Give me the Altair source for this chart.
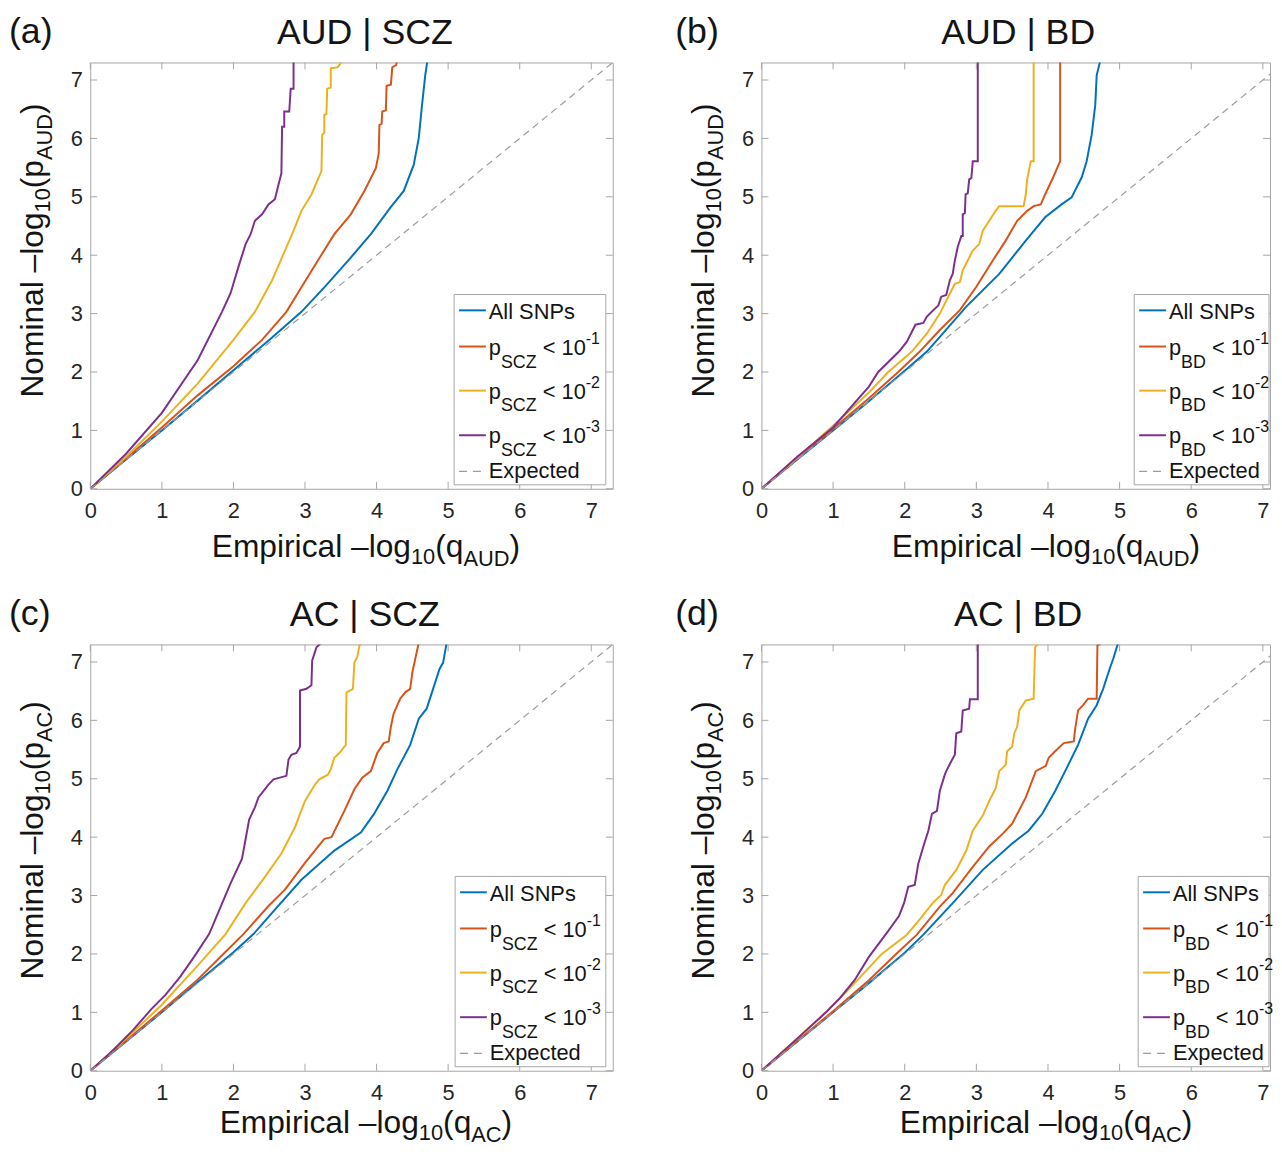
import altair as alt
import pandas as pd

FONT = "Liberation Sans"
BLUE, ORANGE, YELLOW, PURPLE = "#0072BD", "#D95319", "#EDB120", "#7E2F8E"
DASH_C = "#9c9c9c"
BOX_C = "#a6a6a6"
TXT = "#141414"

TICKS = [0, 1, 2, 3, 4, 5, 6, 7]
EXPECTED = [0, 7.3]

# ---------------- data (x = empirical, y = nominal) ----------------
AUD_SCZ_ALL = [(0,0),(0.5,0.5),(1,1.0),(1.5,1.51),(2,2.03),(2.5,2.55),(2.95,3.03),(3.27,3.45),(3.64,3.96),
               (3.92,4.36),(4.19,4.81),(4.38,5.10),(4.52,5.55),(4.59,6.01),(4.63,6.51),(4.68,7.08),(4.71,7.33)]
AUD_SCZ_P1 = [(0,0),(0.5,0.52),(1,1.05),(1.5,1.6),(2.0,2.1),(2.4,2.55),(2.74,3.03),(2.95,3.45),(3.18,3.91),
              (3.41,4.36),(3.64,4.70),(3.83,5.10),(3.99,5.49),(4.03,5.74),(4.04,6.23),(4.07,6.25),(4.08,6.46),
              (4.13,6.48),(4.14,6.9),(4.20,6.92),(4.22,7.22),(4.27,7.25),(4.29,7.33)]
AUD_SCZ_P2 = [(0,0),(0.5,0.55),(1,1.15),(1.5,1.8),(2.0,2.55),(2.3,3.03),(2.54,3.57),(2.72,4.08),(2.84,4.42),
              (2.95,4.76),(3.09,5.04),(3.23,5.44),(3.24,6.06),(3.27,6.1),(3.27,6.40),(3.30,6.42),(3.31,6.85),
              (3.36,6.87),(3.36,7.2),(3.46,7.22),(3.52,7.33)]
AUD_SCZ_P3 = [(0,0),(0.5,0.6),(1.0,1.3),(1.5,2.2),(1.84,3.03),(1.96,3.35),(2.07,3.80),(2.17,4.19),(2.24,4.36),
              (2.30,4.59),(2.40,4.70),(2.49,4.87),(2.58,4.96),(2.63,5.21),(2.67,5.40),(2.68,6.2),(2.71,6.2),
              (2.71,6.46),(2.78,6.46),(2.80,6.85),(2.84,6.85),(2.84,7.33)]

AUD_BD_ALL = [(0,0),(0.5,0.5),(1,1.0),(1.5,1.5),(2.0,2.02),(2.31,2.35),(2.86,3.12),(3.32,3.68),(3.69,4.25),
              (3.96,4.65),(4.19,4.87),(4.33,4.99),(4.47,5.33),(4.54,5.61),(4.61,6.06),(4.66,6.57),(4.68,7.08),(4.73,7.33)]
AUD_BD_P1 = [(0,0),(0.5,0.52),(1,1.03),(1.5,1.55),(1.91,2.0),(2.21,2.35),(2.49,2.72),(2.77,3.06),(3.00,3.46),
             (3.23,3.91),(3.41,4.25),(3.57,4.59),(3.71,4.76),(3.80,4.84),(3.90,4.87),(3.96,5.04),(4.06,5.30),
             (4.17,5.61),(4.17,7.33)]
AUD_BD_P2 = [(0,0),(0.5,0.53),(1,1.08),(1.5,1.65),(1.77,2.0),(2.10,2.35),(2.31,2.66),(2.49,3.00),(2.63,3.34),
             (2.70,3.51),(2.77,3.54),(2.81,3.74),(2.88,3.91),(2.95,4.08),(3.04,4.19),(3.09,4.42),(3.18,4.59),
             (3.27,4.76),(3.32,4.84),(3.66,4.84),(3.69,5.04),(3.71,5.30),(3.76,5.61),(3.80,5.61),(3.80,7.33)]
AUD_BD_P3 = [(0,0),(0.5,0.55),(1,1.05),(1.5,1.75),(1.63,2.0),(1.92,2.35),(2.03,2.52),(2.15,2.81),(2.26,2.84),
             (2.31,2.95),(2.40,3.06),(2.47,3.14),(2.51,3.29),(2.58,3.32),(2.63,3.57),(2.67,3.68),(2.70,3.91),
             (2.74,4.14),(2.79,4.33),(2.81,4.33),(2.81,4.70),(2.84,4.72),(2.85,5.04),(2.88,5.06),(2.90,5.30),
             (2.93,5.32),(2.95,5.61),(3.02,5.61),(3.02,7.33)]

AC_SCZ_ALL = [(0,0),(1,1.0),(1.5,1.52),(2,2.03),(2.28,2.34),(2.58,2.76),(2.95,3.27),(3.41,3.77),(3.78,4.08),
              (3.96,4.39),(4.15,4.79),(4.29,5.16),(4.47,5.58),(4.59,6.03),(4.70,6.20),(4.79,6.54),(4.88,6.88),
              (4.93,6.99),(4.98,7.33)]
AC_SCZ_P1 = [(0,0),(1,1.03),(1.5,1.56),(1.86,2.0),(2.14,2.34),(2.49,2.82),(2.72,3.10),(3.00,3.56),(3.27,3.97),
             (3.37,4.00),(3.55,4.45),(3.69,4.82),(3.80,5.02),(3.92,5.13),(4.01,5.44),(4.10,5.61),(4.17,5.64),
             (4.20,5.89),(4.24,6.12),(4.33,6.37),(4.40,6.48),(4.47,6.54),(4.50,6.82),(4.54,7.05),(4.59,7.33)]
AC_SCZ_P2 = [(0,0),(0.5,0.55),(1.0,1.13),(1.5,1.8),(1.89,2.34),(2.17,2.87),(2.44,3.32),(2.67,3.72),(2.86,4.17),
             (3.00,4.62),(3.14,4.90),(3.20,4.99),(3.32,5.07),(3.36,5.16),(3.41,5.36),(3.48,5.44),(3.57,5.58),
             (3.58,6.48),(3.67,6.54),(3.69,6.99),(3.73,7.08),(3.76,7.28),(3.79,7.33)]
AC_SCZ_P3 = [(0,0),(0.3,0.33),(0.6,0.7),(0.85,1.05),(1.05,1.3),(1.25,1.6),(1.45,1.95),(1.66,2.34),(1.96,3.21),
             (2.12,3.63),(2.22,4.3),(2.30,4.51),(2.35,4.68),(2.49,4.90),(2.56,4.99),(2.74,5.05),(2.77,5.33),
             (2.81,5.41),(2.88,5.44),(2.93,5.55),(2.93,6.51),(3.02,6.54),(3.09,6.60),(3.10,7.02),(3.16,7.25),(3.23,7.33)]

AC_BD_ALL = [(0,0),(1,1.0),(1.5,1.5),(2.0,2.02),(2.26,2.33),(2.67,2.87),(3.09,3.44),(3.50,3.89),(3.73,4.11),
             (3.92,4.40),(4.10,4.79),(4.24,5.13),(4.42,5.58),(4.56,6.03),(4.68,6.26),(4.77,6.54),(4.86,6.88),
             (4.91,7.05),(4.98,7.33)]
AC_BD_P1 = [(0,0),(1,1.02),(1.5,1.55),(1.88,2.0),(2.17,2.33),(2.49,2.81),(2.67,3.04),(2.95,3.49),(3.18,3.84),
            (3.37,4.06),(3.50,4.23),(3.69,4.68),(3.83,5.13),(3.97,5.22),(4.01,5.36),(4.10,5.47),(4.22,5.61),
            (4.36,5.64),(4.38,5.86),(4.42,6.17),(4.49,6.26),(4.56,6.37),(4.68,6.37),(4.69,7.28),(4.75,7.33)]
AC_BD_P2 = [(0,0),(0.9,1.0),(1.3,1.5),(1.68,2.0),(2.03,2.33),(2.21,2.59),(2.39,2.87),(2.51,3.01),(2.56,3.18),
            (2.72,3.44),(2.86,3.77),(2.95,4.11),(3.09,4.37),(3.18,4.62),(3.27,4.84),(3.32,5.13),(3.41,5.24),
            (3.43,5.47),(3.50,5.55),(3.53,5.78),(3.57,5.89),(3.60,6.17),(3.69,6.34),(3.80,6.37),(3.82,7.25),(3.87,7.33)]
AC_BD_P3 = [(0,0),(0.5,0.55),(0.9,1.0),(1.1,1.25),(1.3,1.55),(1.5,1.95),(1.75,2.36),(1.92,2.65),(1.99,2.87),
            (2.05,3.15),(2.14,3.18),(2.19,3.55),(2.26,3.84),(2.33,4.11),(2.38,4.40),(2.45,4.45),(2.49,4.79),
            (2.56,5.07),(2.58,5.13),(2.65,5.30),(2.70,5.41),(2.72,5.78),(2.79,5.81),(2.81,6.17),(2.90,6.20),
            (2.91,6.36),(3.02,6.36),(3.02,7.33)]

# ---------------- text metrics (Arial / Liberation Sans, units per 1000 em) ----------------
W = {' ': 278, '(': 333, ')': 333, '-': 333, '\u2013': 556, '<': 584, '|': 260,
     'A': 667, 'B': 667, 'C': 722, 'D': 722, 'E': 667, 'N': 722, 'P': 667, 'S': 667, 'U': 722, 'Z': 611,
     'a': 556, 'c': 500, 'd': 556, 'e': 556, 'g': 556, 'i': 222, 'l': 222, 'm': 833, 'n': 556, 'o': 556,
     'p': 556, 'q': 556, 'r': 333, 's': 500, 't': 278, 'x': 500}
for _d in "0123456789":
    W[_d] = 556


def tw(text, size):
    return sum(W.get(c, 556) for c in text) * size / 1000.0


def seq(pieces, x0, y0, vertical=False):
    """Lay out text pieces one after another; pure-space pieces only advance the pen."""
    out, pos = [], 0.0
    for text, size, shift in pieces:
        if text.strip():
            if vertical:
                out.append(dict(t=text, x=x0 + shift, y=y0 - pos, s=size, a=270))
            else:
                out.append(dict(t=text, x=x0 + pos, y=y0 + shift, s=size, a=0))
        pos += tw(text, size)
    return out


def total(pieces):
    return sum(tw(t, s) for t, s, _ in pieces)


H = 430
MAIN, SUB = 32, 22
LEG, LSUB, LSUP = 22, 18, 16


def panel(letter, trait, cond, curves, xmax, width, col, leg_left, leg_right, xt_off):
    rows = []
    for k, (pts, color) in enumerate(curves):
        for i, (x, y) in enumerate(pts):
            rows.append({"x": x, "y": y, "k": k, "i": i, "c": color})
    df = pd.DataFrame(rows)
    xs = alt.Scale(domain=[0, xmax], nice=False, zero=True)
    ys = alt.Scale(domain=[0, 7.3], nice=False, zero=True)
    ax_common = dict(title=None, values=TICKS, format="d", domain=False, ticks=False, tickSize=0,
                     grid=False, labelFontSize=22, labelFont=FONT, labelColor="#262626",
                     labelFlush=False, labelOverlap=False)
    xax = alt.Axis(labelPadding=12, **ax_common)
    yax = alt.Axis(labelPadding=8, **ax_common)

    lines = alt.Chart(df).mark_line(strokeWidth=2, clip=True).encode(
        x=alt.X("x:Q", scale=xs, axis=xax),
        y=alt.Y("y:Q", scale=ys, axis=yax),
        color=alt.Color("c:N", scale=None),
        detail="k:N",
        order="i:Q",
    )
    diag = alt.Chart(pd.DataFrame({"x": EXPECTED, "y": EXPECTED})).mark_line(
        color=DASH_C, strokeWidth=1.2, strokeDash=[7, 5], clip=True).encode(
        x=alt.X("x:Q", scale=xs, axis=xax), y=alt.Y("y:Q", scale=ys, axis=yax))

    tdf = pd.DataFrame({"x": TICKS, "y": TICKS})
    tick_x = alt.Chart(tdf).mark_rule(color=BOX_C, strokeWidth=1)
    tb = tick_x.encode(x=alt.X("x:Q", scale=xs, axis=xax), y=alt.value(H), y2=alt.value(H - 7))
    tt = tick_x.encode(x=alt.X("x:Q", scale=xs, axis=xax), y=alt.value(0), y2=alt.value(7))
    tl = tick_x.encode(y=alt.Y("y:Q", scale=ys, axis=yax), x=alt.value(0), x2=alt.value(7))
    tr = tick_x.encode(y=alt.Y("y:Q", scale=ys, axis=yax), x=alt.value(width), x2=alt.value(width - 7))

    # legend
    T = 234
    L = leg_left
    box = alt.Chart(pd.DataFrame([{"px": L, "px2": leg_right, "py": T, "py2": T + 192}])).mark_rect(
        fill="white", stroke=BOX_C, strokeWidth=1).encode(
        x=alt.X("px:Q", scale=None), x2="px2:Q", y=alt.Y("py:Q", scale=None), y2="py2:Q")
    line_y = [16, 52.5, 97, 142]
    leg_colors = [BLUE, ORANGE, YELLOW, PURPLE]
    ldf = pd.DataFrame([{"px": L + 5, "px2": L + 32, "py": T + yy, "c": c} for yy, c in zip(line_y, leg_colors)])
    leg_lines = alt.Chart(ldf).mark_rule(strokeWidth=2).encode(
        x=alt.X("px:Q", scale=None), x2="px2:Q", y=alt.Y("py:Q", scale=None), color=alt.Color("c:N", scale=None))
    leg_dash = alt.Chart(pd.DataFrame([{"px": L + 5, "px2": L + 32, "py": T + 178.5}])).mark_rule(
        strokeWidth=1.2, color=DASH_C, strokeDash=[8, 6]).encode(
        x=alt.X("px:Q", scale=None), x2="px2:Q", y=alt.Y("py:Q", scale=None))

    txt = []
    tx = L + 35
    txt += seq([("All SNPs", LEG, 0)], tx, T + 25)
    for base, sup in zip([61, 105, 150], ["-1", "-2", "-3"]):
        txt += seq([("p", LEG, 0), (cond, LSUB, 13), (" ", LEG, 0), ("<", LEG, 0), (" ", LEG, 0),
                    ("10", LEG, 0), (sup, LSUP, -11)], tx, T + base)
    txt += seq([("Expected", LEG, 0)], tx, T + 185)

    # axis titles
    xt = [("Empirical \u2013log", MAIN, 0), ("10", SUB, 7), ("(q", MAIN, 0), (trait, SUB, 9), (")", MAIN, 0)]
    yt = [("Nominal \u2013log", MAIN, 0), ("10", SUB, 7), ("(p", MAIN, 0), (trait, SUB, 9), (")", MAIN, 0)]
    xc = 278 if col == 0 else 287
    txt += seq(xt, xc - total(xt) / 2, H + xt_off)
    txt += seq(yt, -48, 338, vertical=True)

    # title and panel letter
    title = f"{trait} | {cond}"
    tc = 277 if col == 0 else 259
    txt += seq([(title, 36, 0)], tc - tw(title, 36) / 2, -19)
    txt += seq([(f"({letter})", 36, 0)], -82 if col == 0 else -87, -20)

    texts = alt.Chart(pd.DataFrame(txt)).mark_text(
        font=FONT, color=TXT, align="left", baseline="alphabetic").encode(
        x=alt.X("x:Q", scale=None), y=alt.Y("y:Q", scale=None), text="t:N",
        size=alt.Size("s:Q", scale=None), angle=alt.Angle("a:Q", scale=None))

    return alt.layer(lines, diag, tb, tt, tl, tr, box, leg_lines, leg_dash, texts).properties(
        width=width, height=H)


WL, WR = 527, 513
XR = 7.1
pa = panel("a", "AUD", "SCZ", [(AUD_SCZ_ALL, BLUE), (AUD_SCZ_P1, ORANGE), (AUD_SCZ_P2, YELLOW), (AUD_SCZ_P3, PURPLE)],
           7.3, WL, 0, 367, 520, 69)
pb = panel("b", "AUD", "BD", [(AUD_BD_ALL, BLUE), (AUD_BD_P1, ORANGE), (AUD_BD_P2, YELLOW), (AUD_BD_P3, PURPLE)],
           XR, WR, 1, 376, 512, 69)
pc = panel("c", "AC", "SCZ", [(AC_SCZ_ALL, BLUE), (AC_SCZ_P1, ORANGE), (AC_SCZ_P2, YELLOW), (AC_SCZ_P3, PURPLE)],
           7.3, WL, 0, 368, 520, 63)
pd_ = panel("d", "AC", "BD", [(AC_BD_ALL, BLUE), (AC_BD_P1, ORANGE), (AC_BD_P2, YELLOW), (AC_BD_P3, PURPLE)],
            XR, WR, 1, 380, 512, 63)

chart = alt.concat(pa, pb, pc, pd_, columns=2, spacing={"row": 157, "column": 150}, bounds="flush").configure_view(
    stroke=BOX_C, strokeWidth=1).properties(
    padding={"left": 0, "top": 0, "right": 0, "bottom": 0}, background="white")

chart.save("out.html", embed_options={"renderer": "svg", "actions": False})
